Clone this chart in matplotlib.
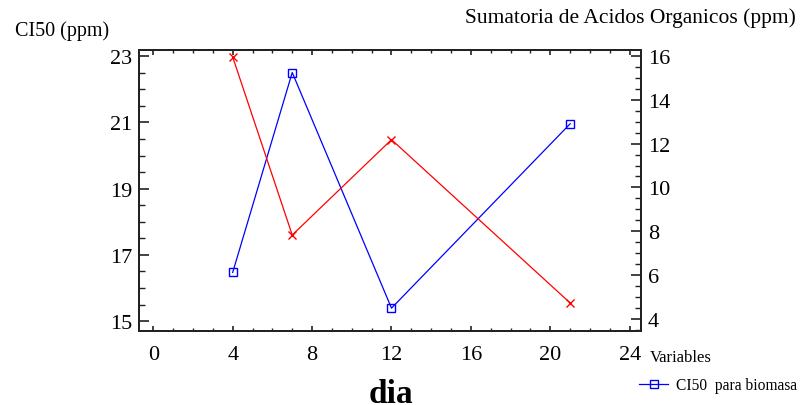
import matplotlib
matplotlib.use("Agg")
import matplotlib.pyplot as plt
from matplotlib.ticker import MultipleLocator

plt.rcParams["font.family"] = ["Liberation Serif", "DejaVu Serif"]

dia = [4, 7, 12, 21]
ci50 = [16.47, 22.51, 15.39, 20.96]          # CI50 para biomasa (left axis)
acidos = [15.95, 7.83, 12.18, 4.73]          # Sumatoria de Acidos Organicos (right axis)

x_ticks = [0, 4, 8, 12, 16, 20, 24]
left_ticks = [15, 17, 19, 21, 23]
right_ticks = [4, 6, 8, 10, 12, 14, 16]

fig = plt.figure(figsize=(8.04, 4.06), dpi=100)
ax = fig.add_axes([139 / 804, 1 - 332 / 406, 502 / 804, 281 / 406])
ax2 = ax.twinx()

blue, = ax.plot(dia, ci50, color="#0000ff", lw=0.9, marker="s", ms=6,
                mfc="none", mec="#0000ff", mew=1.0)
red, = ax2.plot(dia, acidos, color="#ff0000", lw=0.9, marker="x", ms=6,
                mew=1.0)

ax.set_xlim(-0.72, 24.57)
ax.set_ylim(14.70, 23.19)
ax2.set_ylim(3.45, 16.27)

ax.set_xticks(x_ticks)
ax.set_yticks(left_ticks)
ax2.set_yticks(right_ticks)
ax.xaxis.set_minor_locator(MultipleLocator(1))
ax.yaxis.set_minor_locator(MultipleLocator(0.5))
ax2.yaxis.set_minor_locator(MultipleLocator(0.5))

ax.tick_params(axis="x", which="both", direction="in", top=True, bottom=True,
               labelsize=16, pad=10, color="#222222")
ax.tick_params(axis="x", which="major", length=3.8, width=1.2)
ax.tick_params(axis="x", which="minor", length=2.3, width=1.0)
ax.tick_params(axis="y", which="both", direction="in", left=True, right=False,
               labelsize=16, pad=5, color="#222222")
ax2.tick_params(axis="y", which="both", direction="in", labelsize=16, pad=5,
                color="#222222")
for a in (ax, ax2):
    a.tick_params(axis="y", which="major", length=7.5, width=1.2)
    a.tick_params(axis="y", which="minor", length=4.3, width=1.0)
    for s in a.spines.values():
        s.set_linewidth(1.4)
        s.set_color("#222222")

fig.text(15 / 804, 1 - 31 / 406, "CI50 (ppm)", fontsize=14.5, va="center", ha="left")
fig.text(796 / 804, 1 - 18 / 406, "Sumatoria de Acidos Organicos (ppm)",
         fontsize=15.5, va="center", ha="right")
fig.text(391 / 804, 1 - 379 / 406, "dia", fontsize=24, fontweight="bold",
         va="top", ha="center")

fig.text(650 / 804, 1 - 358 / 406, "Variables", fontsize=12, va="center", ha="left")
fig.legend(handles=[blue], labels=["CI50  para biomasa"],
           loc="center left", bbox_to_anchor=(628 / 804, 1 - 386 / 406),
           frameon=False, fontsize=11.2, handlelength=1.9,
           handletextpad=0.5, borderpad=0.2)

fig.savefig("out.png", dpi=100)
